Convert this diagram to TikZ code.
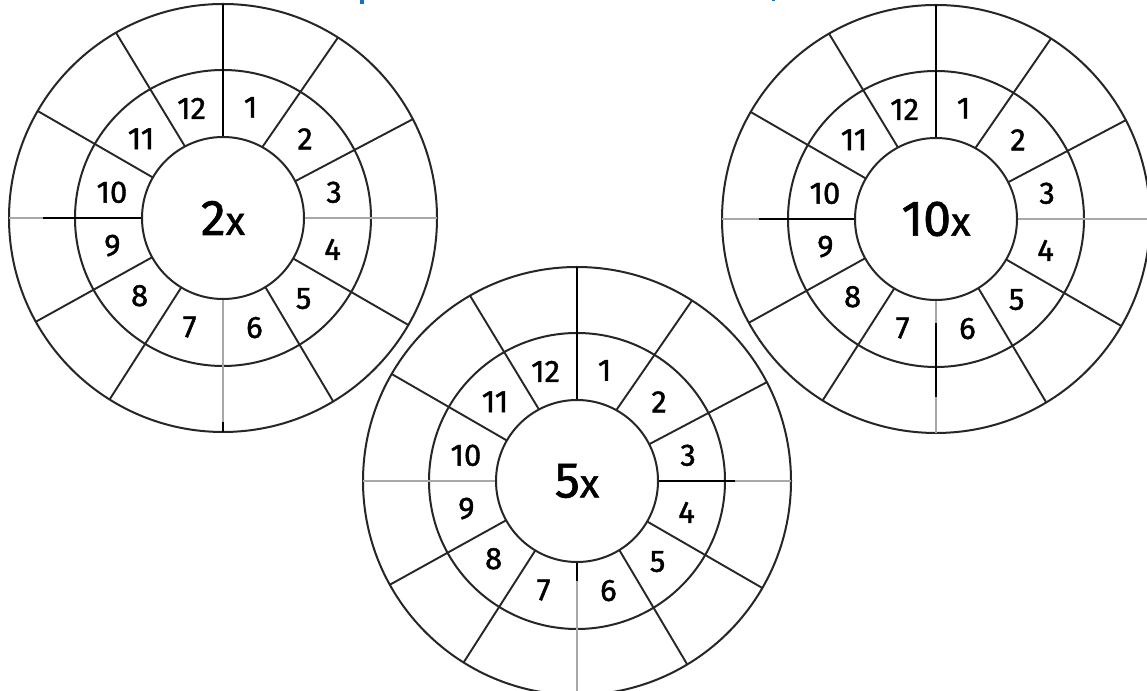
\documentclass[tikz,border=0pt]{standalone}
\usepackage{fontspec}
\setmainfont{Fira Sans}[FakeBold=1.3]
\usetikzlibrary{calc}
\definecolor{ringline}{HTML}{262626}
\definecolor{axgrey}{HTML}{A8A8A8}
\definecolor{titleblue}{HTML}{1F6FB8}
\tikzset{
  ring/.style={draw=ringline,line width=2pt},
  spoke/.style={draw=ringline,line width=1.9pt},
  axblack/.style={draw=black,line width=2.8pt},
  axgreyl/.style={draw=axgrey,line width=2.8pt},
  num/.style={font=\fontsize{31}{31}\selectfont,inner sep=0pt},
  hub/.style={circle,draw=ringline,line width=2pt,minimum size=162pt,inner sep=0pt},
}
\newcommand{\wheel}[2]{%
  \begin{scope}[shift={(#1)}]
    \draw[ring] (0,0) circle (148);
    \draw[ring] (0,0) circle (214);
    \foreach \ai/\ao in {61/57.5,27/27.5,-30/-30,-58.5/-59,-121/-122,-151/-151,150/150,118/120}
      {\draw[spoke] (\ai:81) -- (\ao:214);}
    \foreach \n/\a in {1/76,2/44,3/13,4/-16,5/-45,6/-74,7/-107,8/-137,9/-166,10/167,11/136,12/106}
      {\node[num] at (\a:114) {\n};}
  \end{scope}%
}
\begin{document}
\begin{tikzpicture}[x=1pt,y=1pt]
\useasboundingbox (0,0) rectangle (1147,690);
\clip (0,0) rectangle (1147,690);
\fill[white] (0,0) rectangle (1147,690);
% title fragments
\fill[titleblue] (360,686) rectangle (364,690);
\fill[titleblue] (772,688.5) rectangle (775,690);
% wheel 1
\coordinate (c1) at (223,472);
\wheel{c1}{}
\draw[axblack] ($(c1)+(90:81)$) -- ($(c1)+(90:214)$);
\draw[axgreyl] ($(c1)+(0:81)$) -- ($(c1)+(0:214)$);
\draw[axgreyl] ($(c1)+(-90:81)$) -- ($(c1)+(-90:204)$);
\draw[axblack] ($(c1)+(-90:204)$) -- ($(c1)+(-90:214)$);
\draw[axblack] ($(c1)+(180:81)$) -- ($(c1)+(180:180)$);
\draw[axgreyl] ($(c1)+(180:180)$) -- ($(c1)+(180:214)$);
\node[hub,fill=white] (h1) at (c1) {\fontsize{50}{50}\selectfont 2\fontsize{40}{40}\selectfont x};
% wheel 2
\coordinate (c2) at (577,209);
\wheel{c2}{}
\draw[axblack] ($(c2)+(90:81)$) -- ($(c2)+(90:214)$);
\draw[axblack] ($(c2)+(0:81)$) -- ($(c2)+(0:158)$);
\draw[axgreyl] ($(c2)+(0:158)$) -- ($(c2)+(0:214)$);
\draw[axblack] ($(c2)+(-90:81)$) -- ($(c2)+(-90:100)$);
\draw[axgreyl] ($(c2)+(-90:100)$) -- ($(c2)+(-90:214)$);
\draw[axgreyl] ($(c2)+(180:81)$) -- ($(c2)+(180:214)$);
\node[hub,fill=white] (h2) at (c2) {\fontsize{50}{50}\selectfont 5\fontsize{40}{40}\selectfont x};
% wheel 3
\coordinate (c3) at (936,471);
\wheel{c3}{}
\draw[axblack] ($(c3)+(90:81)$) -- ($(c3)+(90:214)$);
\draw[axgreyl] ($(c3)+(0:81)$) -- ($(c3)+(0:214)$);
\draw[axgreyl] ($(c3)+(-90:81)$) -- ($(c3)+(-90:104)$);
\draw[axblack] ($(c3)+(-90:104)$) -- ($(c3)+(-90:178)$);
\draw[axgreyl] ($(c3)+(-90:178)$) -- ($(c3)+(-90:214)$);
\draw[axblack] ($(c3)+(180:81)$) -- ($(c3)+(180:177)$);
\draw[axgreyl] ($(c3)+(180:177)$) -- ($(c3)+(180:214)$);
\node[hub,fill=white] (h3) at (c3) {\fontsize{50}{50}\selectfont 10\fontsize{40}{40}\selectfont x};
\end{tikzpicture}
\end{document}
